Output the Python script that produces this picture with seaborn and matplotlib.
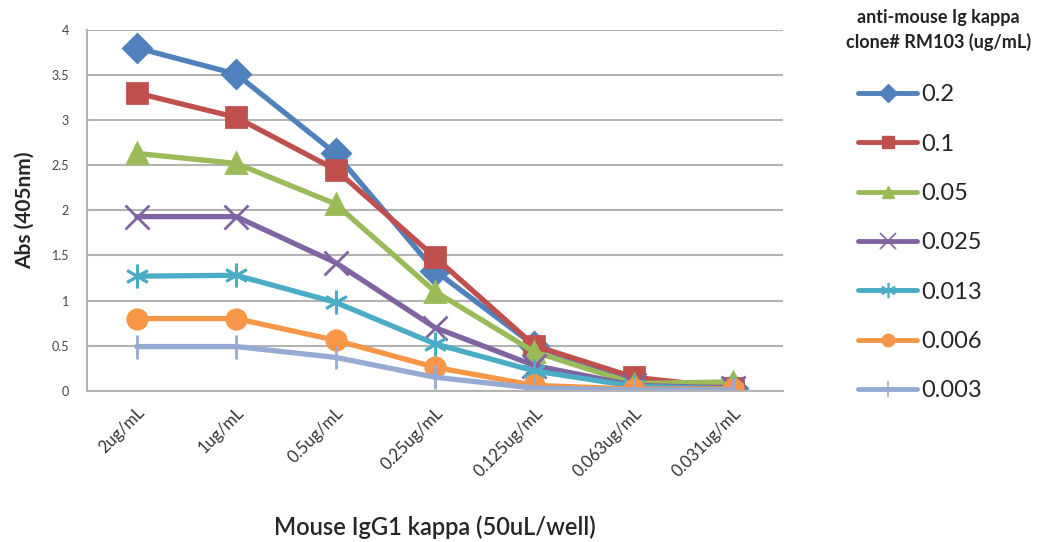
import numpy as np
import pandas as pd
import matplotlib
matplotlib.use("Agg")
import matplotlib.pyplot as plt
import seaborn as sns
from matplotlib.lines import Line2D

categories = ["2ug/mL", "1ug/mL", "0.5ug/mL", "0.25ug/mL", "0.125ug/mL", "0.063ug/mL", "0.031ug/mL"]
series_names = ["0.2", "0.1", "0.05", "0.025", "0.013", "0.006", "0.003"]
s_02 = [3.80, 3.51, 2.63, 1.33, 0.50, 0.10, 0.03]
s_01 = [3.30, 3.03, 2.45, 1.48, 0.50, 0.15, 0.03]
s_005 = [2.63, 2.52, 2.07, 1.10, 0.43, 0.08, 0.10]
s_0025 = [1.93, 1.93, 1.42, 0.70, 0.28, 0.06, 0.03]
s_0013 = [1.27, 1.28, 0.98, 0.52, 0.22, 0.05, 0.02]
s_0006 = [0.80, 0.80, 0.56, 0.26, 0.06, 0.02, 0.02]
s_0003 = [0.49, 0.49, 0.37, 0.15, 0.03, 0.01, 0.01]
yticks = [0, 0.5, 1, 1.5, 2, 2.5, 3, 3.5, 4]
ytick_labels = ["0", "0.5", "1", "1.5", "2", "2.5", "3", "3.5", "4"]

colors = ["#4F81BD", "#C0504D", "#9BBB59", "#8064A2", "#4BACC6", "#F79646", "#95ABD4"]
markers = ["D", "s", "^", "x", (6, 2, 0), "o", "|"]
line_art = [False, False, False, True, True, False, True]

all_vals = [s_02, s_01, s_005, s_0025, s_0013, s_0006, s_0003]

sns.set_style("white")
plt.rcParams["font.family"] = ["Lato", "DejaVu Sans"]

fig = plt.figure(figsize=(10.37, 5.42), dpi=100)
ax = fig.add_axes([0.084, 0.279, 0.671, 0.666])

ax.set_yticks(yticks)
ax.yaxis.grid(True, color="#b3b3b3", linewidth=1.5)
ax.set_axisbelow(True)

for name, vals, c, mk, la in zip(series_names, all_vals, colors, markers, line_art):
    d = pd.DataFrame({"pos": range(len(categories)), "abs": vals})
    sns.lineplot(data=d, x="pos", y="abs", color=c, marker=mk, sort=False,
                 linewidth=3.8, markersize=17 if la else 14,
                 markeredgewidth=2.0, markeredgecolor=c, ax=ax)

ax.set_xlim(-0.5, 6.5)
ax.set_ylim(0, 4)
ax.set_xticks(range(len(categories)))
ax.set_xticklabels(categories, rotation=45, ha="right", rotation_mode="anchor",
                   fontsize=12, color="#333333")
ax.set_yticklabels(ytick_labels, fontsize=9, color="#444444")
ax.tick_params(axis="y", length=5, color="#b3b3b3", width=1.5, pad=8)
ax.tick_params(axis="x", length=0, pad=10)
for sp in ["top", "right"]:
    ax.spines[sp].set_visible(False)
ax.spines["left"].set_color("#b3b3b3")
ax.spines["left"].set_linewidth(1.5)
ax.spines["bottom"].set_color("#b3b3b3")
ax.spines["bottom"].set_linewidth(1.5)

ax.set_ylabel("Abs (405nm)", fontsize=15, fontweight="bold", labelpad=12)
ax.set_xlabel("Mouse IgG1 kappa (50uL/well)", fontsize=17, fontweight="semibold", labelpad=26)

# legend title as separate text so it sits like the original
fig.text(0.905, 1 - 30 / 542, "anti-mouse Ig kappa\nclone# RM103 (ug/mL)", ha="center", va="center",
         fontsize=13, fontweight="bold", linespacing=1.5, color="#222222")

handles = []
for c, mk, la in zip(colors, markers, line_art):
    handles.append(Line2D([], [], color=c, marker=mk, markersize=11 if la else 9,
                          markeredgecolor=c, markeredgewidth=1.2 if la else 1.0, linewidth=3.5))
leg = fig.legend(handles, series_names, loc="upper left",
                 bbox_to_anchor=(837 / 1037, 1 - 63 / 542), frameon=False,
                 fontsize=17, handlelength=2.5, handletextpad=0.15, labelspacing=1.2)

fig.savefig("out.png", dpi=100)
